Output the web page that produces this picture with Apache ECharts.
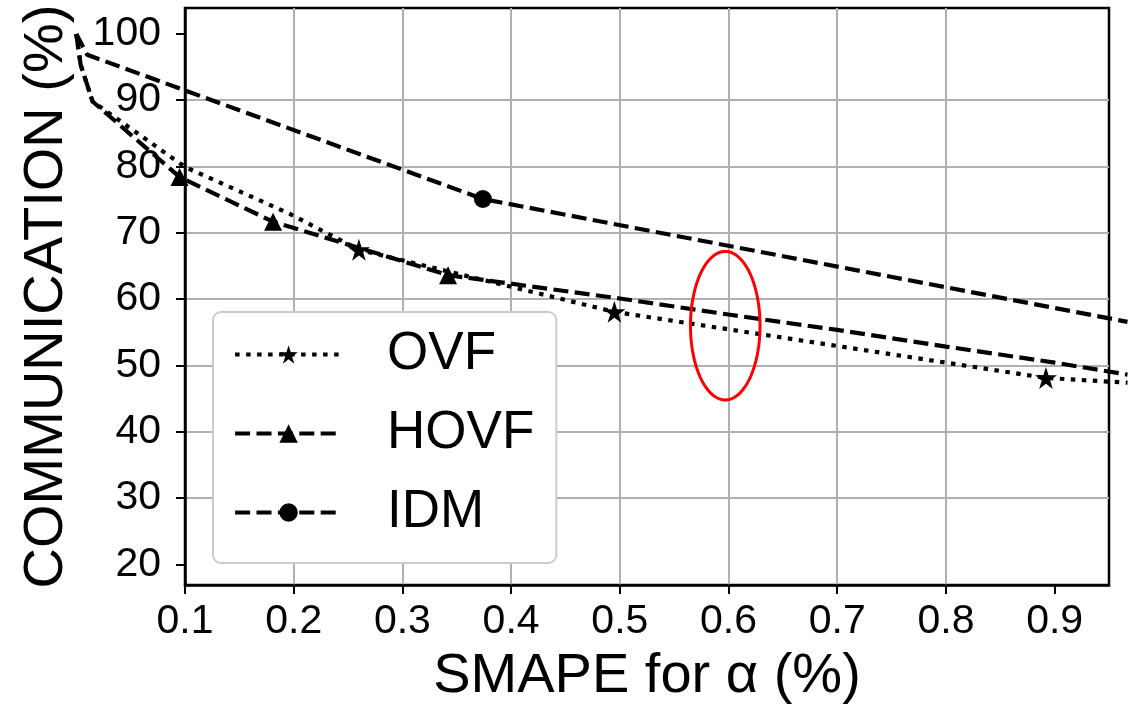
<!DOCTYPE html>
<html>
<head>
<meta charset="utf-8">
<script src="https://cdn.jsdelivr.net/npm/echarts@6/dist/echarts.min.js"></script>
<style>
  html, body { margin: 0; padding: 0; background: #fff; }
  #chart { width: 1128px; height: 710px; }
</style>
</head>
<body>
<div id="chart"></div>
<script>
// OVF (dotted, stars)
const ovfX = [0, 0.004, 0.015, 0.1, 0.196, 0.26, 0.495, 0.892, 0.967];
const ovfY = [100, 95.4, 89.9, 80.1, 73.1, 67.7, 58.4, 48.5, 47.8];
const ovfMarks = [5, 6, 7];

// HOVF (dashed, triangles)
const hovfX = [0, 0.004, 0.015, 0.095, 0.181, 0.342, 0.5, 0.6, 0.7, 0.8, 0.9, 0.967];
const hovfY = [100, 95.4, 89.9, 78.6, 71.9, 63.9, 60.4, 58.0, 55.7, 53.2, 50.8, 49.0];
const hovfMarks = [3, 4, 5];

// IDM (dashed, circle)
const idmX = [0, 0.01, 0.374, 0.967];
const idmY = [100, 96.9, 75.3, 56.9];
const idmMarks = [2];

const xTicks = [0.1, 0.2, 0.3, 0.4, 0.5, 0.6, 0.7, 0.8, 0.9];
const yTicks = [20, 30, 40, 50, 60, 70, 80, 90, 100];

// red ellipse: centre x, centre y, radius x, radius y (data units)
const ellipse = [0.597, 56.0, 0.032, 11.2];

const FONT = '"Liberation Sans", Arial, sans-serif';
const STAR = 'path://M0,-10L2.245,-3.09L9.511,-3.09L3.633,1.18L5.878,8.09L0,3.82L-5.878,8.09L-3.633,1.18L-9.511,-3.09L-2.245,-3.09Z';

// plot area and axis ranges
const W = 1128, H = 710;
const PLOT = { left: 185, right: 19, top: 8, bottom: 121 };
const X_RANGE = [0.1, 0.95];
const Y_RANGE = [16.9, 103.9];

// the curves run past the axes (not clipped), so they are drawn on a second,
// invisible grid that covers the whole canvas with the same scale
const pxX = (W - PLOT.left - PLOT.right) / (X_RANGE[1] - X_RANGE[0]);
const pxY = (H - PLOT.top - PLOT.bottom) / (Y_RANGE[1] - Y_RANGE[0]);
const OUTER_X = [X_RANGE[0] - PLOT.left / pxX, X_RANGE[1] + PLOT.right / pxX];
const OUTER_Y = [Y_RANGE[0] - PLOT.bottom / pxY, Y_RANGE[1] + PLOT.top / pxY];

function toData(xs, ys, marks) {
  return xs.map((x, i) => {
    const item = { value: [x, ys[i]] };
    if (marks.indexOf(i) < 0) item.symbol = 'none';
    return item;
  });
}

function lineSeries(name, xs, ys, marks, symbol, size, dash) {
  return {
    name: name,
    type: 'line',
    xAxisIndex: 1,
    yAxisIndex: 1,
    data: toData(xs, ys, marks),
    clip: false,
    symbol: symbol,
    symbolSize: size,
    showSymbol: true,
    z: 3,
    itemStyle: { color: '#000' },
    lineStyle: { color: '#000', width: 4.2, type: dash, cap: 'butt' },
    emphasis: { disabled: true }
  };
}

const chart = echarts.init(document.getElementById('chart'), null, { renderer: 'canvas' });

chart.setOption({
  animation: false,
  backgroundColor: '#fff',
  grid: [
    {
      left: PLOT.left, right: PLOT.right, top: PLOT.top, bottom: PLOT.bottom,
      show: true, borderColor: '#000', borderWidth: 2.5, backgroundColor: 'transparent'
    },
    { left: 0, right: 0, top: 0, bottom: 0 }
  ],
  legend: {
    orient: 'vertical',
    left: 213, top: 312,
    data: ['OVF', 'HOVF', 'IDM'],
    itemWidth: 107, itemHeight: 23, itemGap: 26,
    padding: [16, 22, 24, 20],
    backgroundColor: '#fff',
    borderColor: '#cccccc', borderWidth: 2, borderRadius: 8,
    lineStyle: { width: 4.2 },
    textStyle: { fontSize: 53, color: '#000', fontFamily: FONT, padding: [0, 0, 0, 40] },
    z: 10
  },
  xAxis: [
    {
      type: 'value',
      min: X_RANGE[0], max: X_RANGE[1],
      minInterval: 0.1, maxInterval: 0.1,
      name: 'SMAPE for α (%)',
      nameLocation: 'middle', nameGap: 64,
      nameTextStyle: { fontSize: 56, color: '#000', fontFamily: FONT },
      axisLine: { show: true, onZero: false, lineStyle: { color: '#000', width: 2.5 } },
      axisTick: { show: true, inside: false, length: 9, lineStyle: { color: '#000', width: 2 }, customValues: xTicks },
      axisLabel: { fontSize: 41, color: '#000', margin: 16, fontFamily: FONT, customValues: xTicks,
        formatter: v => v.toFixed(1) },
      splitLine: { show: true, showMinLine: false, showMaxLine: false, lineStyle: { color: '#b0b0b0', width: 2 } }
    },
    { type: 'value', gridIndex: 1, min: OUTER_X[0], max: OUTER_X[1], show: false }
  ],
  yAxis: [
    {
      type: 'value',
      min: Y_RANGE[0], max: Y_RANGE[1],
      minInterval: 10, maxInterval: 10,
      name: 'COMMUNICATION (%)',
      nameLocation: 'middle', nameGap: 110,
      nameTextStyle: { fontSize: 56, color: '#000', fontFamily: FONT },
      axisLine: { show: true, onZero: false, lineStyle: { color: '#000', width: 2.5 } },
      axisTick: { show: true, inside: false, length: 9, lineStyle: { color: '#000', width: 2 }, customValues: yTicks },
      axisLabel: { fontSize: 41, color: '#000', margin: 24, fontFamily: FONT, customValues: yTicks },
      splitLine: { show: true, showMinLine: false, showMaxLine: false, lineStyle: { color: '#b0b0b0', width: 2 } }
    },
    { type: 'value', gridIndex: 1, min: OUTER_Y[0], max: OUTER_Y[1], show: false }
  ],
  series: [
    lineSeries('OVF', ovfX, ovfY, ovfMarks, STAR, 22, [4.5, 6.5]),
    lineSeries('HOVF', hovfX, hovfY, hovfMarks, 'triangle', 18, [15, 6.4]),
    lineSeries('IDM', idmX, idmY, idmMarks, 'circle', 18, [15, 6.4]),
    {
      name: 'region',
      type: 'custom',
      silent: true,
      clip: false,
      z: 5,
      data: [ellipse],
      renderItem: function (params, api) {
        const cx = api.value(0), cy = api.value(1), rx = api.value(2), ry = api.value(3);
        const pts = [];
        for (let k = 0; k < 90; k++) {
          const t = k / 90 * 2 * Math.PI;
          pts.push(api.coord([cx + rx * Math.cos(t), cy + ry * Math.sin(t)]));
        }
        return {
          type: 'polygon',
          shape: { points: pts },
          style: { fill: 'none', stroke: '#ff0000', lineWidth: 3 }
        };
      }
    }
  ]
});
</script>
</body>
</html>
